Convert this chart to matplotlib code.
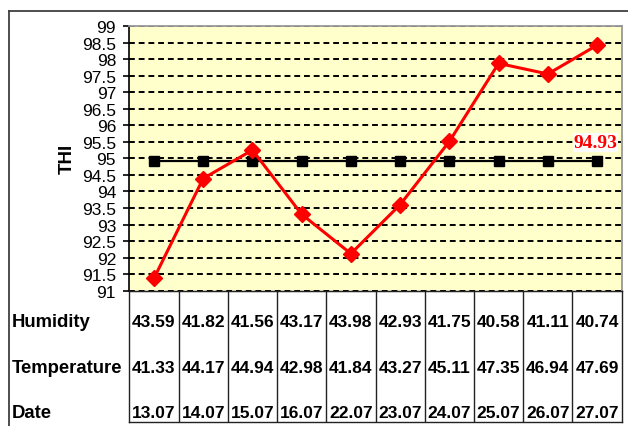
import matplotlib
matplotlib.use("Agg")
import matplotlib.pyplot as plt
from matplotlib.lines import Line2D
from matplotlib.ticker import MultipleLocator, FuncFormatter

# daily readings
dates = ["13.07", "14.07", "15.07", "16.07", "22.07",
         "23.07", "24.07", "25.07", "26.07", "27.07"]
humidity = ["43.59", "41.82", "41.56", "43.17", "43.98",
            "42.93", "41.75", "40.58", "41.11", "40.74"]
temperature = ["41.33", "44.17", "44.94", "42.98", "41.84",
               "43.27", "45.11", "47.35", "46.94", "47.69"]
thi = [91.37, 94.39, 95.25, 93.31, 92.12, 93.60, 95.51, 97.87, 97.55, 98.42]
thi_mean = [94.93] * 10
mean_label = "94.93"

plt.rcParams["font.family"] = ["Liberation Sans", "DejaVu Sans"]

fig = plt.figure(figsize=(6.28, 4.27), dpi=100)
W, H = 628.0, 427.0

# chart area
left, right, top, bottom = 129.3, 621.7, 27.0, 291.7
ax = fig.add_axes([left / W, 1 - bottom / H, (right - left) / W, (bottom - top) / H])
ax.set_facecolor("#FFFFCC")
x = list(range(len(dates)))
ax.plot(x, thi_mean, color="black", lw=1.6, marker="s", ms=6.5, zorder=3)
ax.plot(x, thi, color="#FF0000", lw=2.2, marker="D", ms=8, zorder=4)
ax.text(x[-1] - 0.03, 95.48, mean_label, color="#FF0000", fontsize=14,
        fontweight="bold", family=["Liberation Serif", "DejaVu Serif"],
        ha="center", va="center", zorder=5,
        bbox=dict(facecolor="white", edgecolor="none", pad=0.5))

ax.set_xlim(-0.5, len(dates) - 0.5)
ax.set_ylim(91, 99)
ax.yaxis.set_major_locator(MultipleLocator(0.5))
ax.yaxis.set_major_formatter(FuncFormatter(lambda v, p: f"{v:g}"))
ax.tick_params(axis="y", direction="out", length=4, width=1.2, pad=5.5,
               labelsize=12.5, colors="black")
ax.set_xticks([])
ax.yaxis.grid(True, linestyle=(0, (3, 2)), color="black", lw=1.4)
ax.set_axisbelow(True)
for s in ["top", "right"]:
    ax.spines[s].set_color("#999999")
    ax.spines[s].set_linewidth(1.3)
ax.spines["left"].set_color("black")
ax.spines["left"].set_linewidth(1.2)
ax.spines["bottom"].set_color("black")

fig.text(67 / W, 1 - 159 / H, "THI", rotation=90, fontsize=13.5,
         fontweight="bold", ha="center", va="center")

# data table under the chart
tab_bottom = 423.0
tab = fig.add_axes([left / W, 1 - tab_bottom / H, (right - left) / W, (tab_bottom - bottom) / H])
tab.set_xlim(-0.5, len(dates) - 0.5)
tab.set_ylim(0, 1)
tab.set_xticks([])
tab.set_yticks([])
tab.patch.set_alpha(0)
for s in tab.spines.values():
    s.set_color("#222222")
    s.set_linewidth(1.0)
for k in range(1, len(dates)):
    tab.axvline(k - 0.5, color="#222222", lw=1.0)

col_w = (right - left) / len(dates)
# row name, values, baseline in pixels from the top
rows = [("Humidity", humidity, 327.5), ("Temperature", temperature, 373.0),
        ("Date", dates, 418.5)]
for name, vals, base in rows:
    fig.text(12.0 / W, 1 - base / H, name, fontsize=13.3, fontweight="bold",
             ha="left", va="baseline")
    for i, v in enumerate(vals):
        fig.text((left + (i + 0.5) * col_w) / W, 1 - base / H, v,
                 fontsize=12.5, fontweight="bold", ha="center", va="baseline")

# outer frame
fig.add_artist(Line2D([9 / W, 1], [1 - 12 / H, 1 - 12 / H], color="#404040", lw=1.3))
fig.add_artist(Line2D([9 / W, 9 / W], [0, 1 - 12 / H], color="#404040", lw=1.3))

fig.savefig("out.png", dpi=100)
